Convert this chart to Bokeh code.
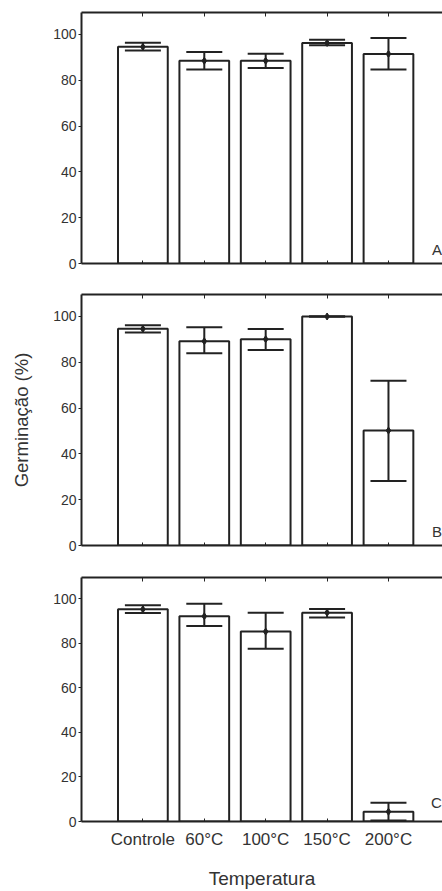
from bokeh.plotting import figure
from bokeh.models import Range1d, LinearAxis, FixedTicker, Whisker, ColumnDataSource, TeeHead, Label
from bokeh.layouts import column
from bokeh.embed import file_html
from bokeh.resources import INLINE

categories = ["Controle", "60°C", "100°C", "150°C", "200°C"]
y_ticks = [0, 20, 40, 60, 80, 100]
panel_labels = ["A", "B", "C"]

mean_A = [94.6, 88.5, 88.5, 96.3, 91.5]
lower_A = [93.0, 84.7, 85.4, 95.3, 84.7]
upper_A = [96.4, 92.3, 91.6, 97.7, 98.5]

mean_B = [94.6, 89.2, 90.1, 100.0, 50.2]
lower_B = [93.0, 84.0, 85.4, 100.0, 28.2]
upper_B = [96.2, 95.3, 94.5, 100.0, 71.9]

mean_C = [95.3, 92.2, 85.3, 93.8, 4.4]
lower_C = [93.7, 87.8, 77.6, 91.6, 0.4]
upper_C = [97.1, 97.8, 93.8, 95.4, 8.4]

FONT = "Liberation Sans"
TXT = "#333333"
LINE = "#222222"


def make_panel(mean, lower, upper, letter, letter_y, height, border_top, border_bottom,
               show_x_labels=False, y_label=None):
    xs = list(range(len(categories)))
    p = figure(width=442, height=height, x_range=Range1d(-1, 4.88), y_range=Range1d(0, 109.6),
               x_axis_type=None, y_axis_type=None, output_backend="svg", toolbar_location=None,
               min_border_left=81, min_border_right=0, min_border_top=border_top,
               min_border_bottom=border_bottom)
    p.outline_line_color = None
    p.background_fill_color = "white"
    p.border_fill_color = "white"

    src = ColumnDataSource(dict(x=xs, mean=mean, lower=lower, upper=upper))
    p.vbar(x="x", top="mean", bottom=0, width=0.81, source=src,
           fill_color="white", line_color=LINE, line_width=2)
    w = Whisker(source=src, base="x", upper="upper", lower="lower",
                line_color=LINE, line_width=2, level="overlay",
                upper_head=TeeHead(size=36, line_color=LINE, line_width=2),
                lower_head=TeeHead(size=36, line_color=LINE, line_width=2))
    p.add_layout(w)
    p.scatter(x="x", y="mean", source=src, marker="diamond", size=7,
              fill_color=LINE, line_color=LINE, level="overlay")

    # left axis
    ya = LinearAxis(ticker=FixedTicker(ticks=y_ticks))
    ya.axis_line_width = 2
    ya.axis_line_color = LINE
    ya.major_tick_out = 3
    ya.major_tick_in = 0
    ya.major_tick_line_color = LINE
    ya.minor_tick_line_color = None
    ya.major_label_standoff = 2
    ya.major_label_text_font = FONT
    ya.major_label_text_font_size = "14px"
    ya.major_label_text_color = TXT
    if y_label:
        ya.axis_label = y_label
        ya.axis_label_text_font = FONT
        ya.axis_label_text_font_size = "18.5px"
        ya.axis_label_text_font_style = "normal"
        ya.axis_label_text_color = TXT
        ya.axis_label_standoff = 18
    p.add_layout(ya, "left")

    # bottom axis
    xa = LinearAxis(ticker=FixedTicker(ticks=xs))
    xa.axis_line_width = 2
    xa.axis_line_color = LINE
    xa.major_tick_in = 3
    xa.major_tick_out = 0
    xa.major_tick_line_color = LINE
    xa.minor_tick_line_color = None
    if show_x_labels:
        xa.major_label_overrides = {i: c for i, c in zip(xs, categories)}
        xa.major_label_standoff = 8
        xa.major_label_text_font = FONT
        xa.major_label_text_font_size = "17px"
        xa.major_label_text_color = TXT
        xa.axis_label = "Temperatura"
        xa.axis_label_text_font = FONT
        xa.axis_label_text_font_size = "19px"
        xa.axis_label_text_font_style = "normal"
        xa.axis_label_text_color = TXT
        xa.axis_label_standoff = 16
    else:
        xa.major_label_overrides = {i: "" for i in xs}
        xa.major_label_standoff = 0
    p.add_layout(xa, "below")

    # top axis (frame with inward ticks)
    ta = LinearAxis(ticker=FixedTicker(ticks=xs))
    ta.axis_line_width = 2
    ta.axis_line_color = LINE
    ta.major_tick_in = 4
    ta.major_tick_out = 0
    ta.major_tick_line_color = LINE
    ta.minor_tick_line_color = None
    ta.major_label_overrides = {i: "" for i in xs}
    ta.major_label_standoff = 0
    p.add_layout(ta, "above")

    p.add_layout(Label(x=4.87, y=letter_y, text=letter, text_align="right",
                       text_baseline="bottom", text_font=FONT, text_font_size="15px",
                       text_color=TXT))
    return p


pA = make_panel(mean_A, lower_A, upper_A, panel_labels[0], 2.5, 278, 12, 15)
pB = make_panel(mean_B, lower_B, upper_B, panel_labels[1], 2.5, 283, 16, 16,
                y_label="Germinação (%)")
pC = make_panel(mean_C, lower_C, upper_C, panel_labels[2], 4.5, 330, 16, 63,
                show_x_labels=True)

layout = column(pA, pB, pC, spacing=0)
open("out.html", "w").write(file_html(layout, INLINE))
